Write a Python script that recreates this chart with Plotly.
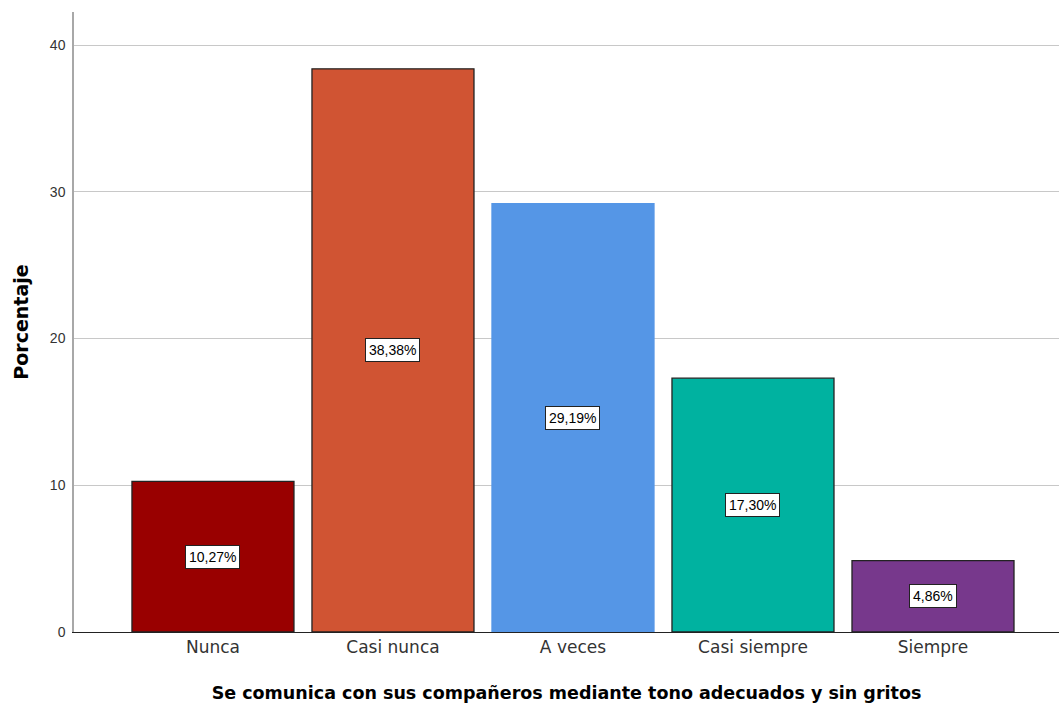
import plotly.graph_objects as go

categories = ["Nunca", "Casi nunca", "A veces", "Casi siempre", "Siempre"]
values = [10.27, 38.38, 29.19, 17.30, 4.86]
labels = ["10,27%", "38,38%", "29,19%", "17,30%", "4,86%"]
colors = ["#990000", "#D05433", "#5596E6", "#00B2A0", "#77388C"]
outline = ["#222222", "#222222", "#5596E6", "#222222", "#222222"]

FONT = "Arial, Liberation Sans, sans-serif"
WIDE = "DejaVu Sans, Verdana, sans-serif"
xs = list(range(len(categories)))

fig = go.Figure()
fig.add_trace(go.Bar(
    x=xs, y=values, width=0.9,
    marker=dict(color=colors, line=dict(color=outline, width=1.3)),
    hoverinfo="skip", showlegend=False,
))

for x, v, t in zip(xs, values, labels):
    fig.add_annotation(
        x=x, y=v / 2, text=t, showarrow=False,
        font=dict(family=FONT, size=14, color="black"),
        bgcolor="white", bordercolor="#222222", borderwidth=1, borderpad=3,
    )

fig.update_layout(
    width=1059, height=714,
    margin=dict(l=74, r=0, t=12, b=82),
    paper_bgcolor="white", plot_bgcolor="white",
    font=dict(family=FONT),
    xaxis=dict(
        range=[-0.772, 4.7], tickmode="array", tickvals=xs, ticktext=categories,
        tickfont=dict(family=WIDE, size=17, color="#333333"), showgrid=False,
        showline=True, linecolor="#222222", linewidth=1, ticks="", zeroline=False,
        title=dict(text="<b>Se comunica con sus compañeros mediante tono adecuados y sin gritos</b>",
                   font=dict(family=WIDE, size=17.5, color="black"), standoff=30),
    ),
    yaxis=dict(
        range=[0, 42.25], tickvals=[0, 10, 20, 30, 40],
        tickfont=dict(size=14, color="#333333"),
        showgrid=True, gridcolor="#C8C8C8", gridwidth=1,
        showline=True, linecolor="#A8A8A8", linewidth=1.5, ticks="outside",
        ticklen=4, tickcolor="rgba(0,0,0,0)", zeroline=False,
        title=dict(text="<b>Porcentaje</b>", font=dict(family=WIDE, size=19, color="black"), standoff=16),
    ),
)

fig.write_html(
    "out.html",
    config={"displayModeBar": False},
    post_script="document.body.style.margin='0';document.body.style.overflow='hidden';",
)
